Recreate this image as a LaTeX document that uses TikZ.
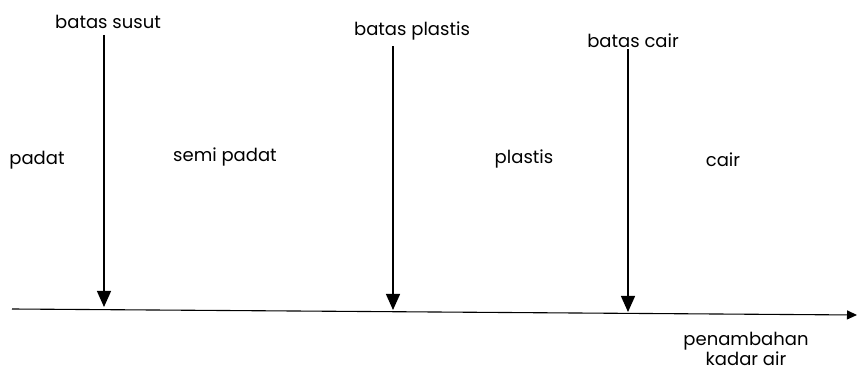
\documentclass[tikz,border=0pt]{standalone}
\usepackage{fontspec}
\setmainfont{Poppins}
\usetikzlibrary{arrows.meta}
\tikzset{
  lbl/.style={font=\fontsize{18}{20}\selectfont, inner sep=0pt},
  batasarrow/.style={-{Triangle[width=14pt,length=16pt]}, line width=1.3pt},
}
\begin{document}
\begin{tikzpicture}[x=1pt, y=-1pt, line join=round]
			\useasboundingbox (0,0) rectangle (857,371);
			\coordinate (axL) at (12,309);
			\coordinate (axR) at (857,315);
			\coordinate (s1) at (104,307);
			\coordinate (s2) at (393,310);
			\coordinate (s3) at (628,312);
			\node[lbl] (susut) at (108,22) {batas susut};
			\node[lbl] (plastisb) at (412,31) {batas plastis};
			\node[lbl] (cairb) at (633,41) {batas cair};
			\node[lbl] (padat) at (37,160) {padat};
			\node[lbl] (semi) at (225,157) {semi padat};
			\node[lbl] (plastis) at (524,159) {plastis};
			\node[lbl] (cair) at (723,160) {cair};
			\node[lbl, align=center] (kadar) at (746,349) {penambahan\\[0pt]kadar air};
			\draw[-{Triangle[width=9pt,length=10pt]}, line width=1.1pt] (axL) -- (axR);
			\draw[batasarrow] (susut.south -| s1) ++(0,6) -- (s1);
			\draw[batasarrow] (plastisb.south -| s2) ++(0,6) -- (s2);
			\draw[batasarrow] (cairb.south -| s3) ++(0,1) -- (s3);
		\end{tikzpicture}
\end{document}
